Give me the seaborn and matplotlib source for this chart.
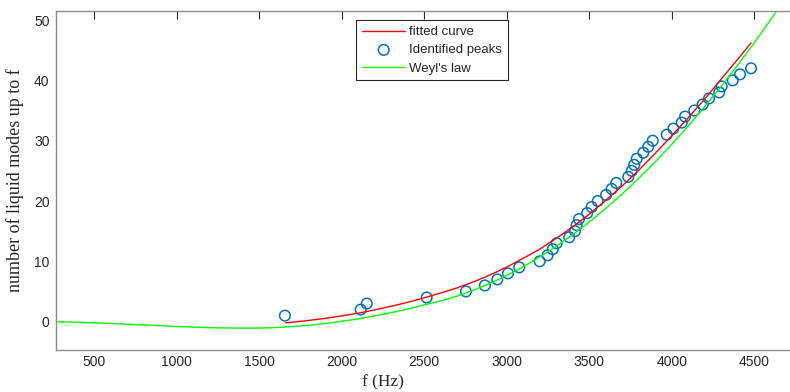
import numpy as np
import pandas as pd
import matplotlib
matplotlib.use("Agg")
import matplotlib.pyplot as plt
import seaborn as sns

sns.set_theme(style="white")
plt.rcParams['font.family'] = ['Liberation Sans', 'DejaVu Sans']

# identified peaks: frequency (Hz) and cumulative mode count
peak_f = [1656, 2115, 2152, 2515, 2753, 2868, 2943, 3008, 3076, 3200,
          3248, 3279, 3303, 3379, 3414, 3424, 3438, 3488, 3515, 3552,
          3602, 3636, 3664, 3737, 3758, 3773, 3788, 3828, 3858, 3885,
          3970, 4010, 4061, 4081, 4137, 4188, 4226, 4288, 4303, 4370,
          4414, 4481]
peak_n = list(range(1, 43))

# fitted curve
fit_f = [1660, 1700, 1800, 1900, 2000, 2100, 2200, 2300, 2400, 2500,
         2600, 2700, 2800, 2900, 3000, 3100, 3200, 3300, 3400, 3500,
         3600, 3700, 3800, 3900, 4000, 4100, 4200, 4300, 4400, 4481]
fit_n = [-0.2, -0.1, 0.2, 0.55, 0.95, 1.4, 1.95, 2.55, 3.2, 3.95,
         4.75, 5.6, 6.6, 7.75, 9.05, 10.5, 12.0, 13.8, 15.7, 17.8,
         20.1, 22.5, 25.1, 27.9, 30.8, 33.8, 36.9, 40.2, 43.5, 46.2]

# Weyl's law
weyl_f = [267, 400, 600, 800, 1000, 1200, 1400, 1500, 1600, 1700,
          1800, 1900, 2000, 2100, 2200, 2300, 2400, 2500, 2600, 2700,
          2800, 2900, 3000, 3100, 3200, 3300, 3400, 3500, 3600, 3700,
          3800, 3900, 4000, 4100, 4200, 4300, 4400, 4500, 4600, 4700,
          4800]
weyl_n = [0.0, -0.1, -0.3, -0.55, -0.8, -1.0, -1.08, -1.06, -0.98, -0.82,
          -0.6, -0.32, 0.05, 0.45, 0.95, 1.5, 2.1, 2.77, 3.43, 4.24,
          5.22, 6.35, 7.65, 9.1, 10.72, 12.49, 14.42, 16.51, 18.76, 21.17,
          23.75, 26.48, 29.37, 32.42, 35.64, 39.01, 42.54, 46.22, 50.07, 54.08,
          58.25]

xticks = [500, 1000, 1500, 2000, 2500, 3000, 3500, 4000, 4500]
yticks = [0, 10, 20, 30, 40, 50]

W, H = 790, 392
fig = plt.figure(figsize=(W / 100, H / 100), dpi=100)
ax = fig.add_axes([55.7 / W, 42 / H, 748 / W, 339 / H])

sns.lineplot(x=fit_f, y=fit_n, ax=ax, color='#ff0000', lw=1.0,
             label='fitted curve', estimator=None, sort=False)
sns.scatterplot(x=peak_f, y=peak_n, ax=ax, marker='o', s=58,
                facecolors='none', edgecolors='#0072BD', linewidths=1.1,
                label='Identified peaks')
sns.lineplot(x=weyl_f, y=weyl_n, ax=ax, color='#00ff00', lw=1.0,
             label="Weyl's law", estimator=None, sort=False)

ax.set_xlim(267, 4800)
ax.set_ylim(-4.7, 51.5)
ax.set_xticks(xticks)
ax.set_yticks(yticks)
ax.tick_params(direction='in', length=5.5, width=0.8, colors='#262626',
               labelsize=10, top=True, right=True)
ax.tick_params(axis='x', pad=3.5)
ax.tick_params(axis='y', pad=4.5)
for s in ax.spines.values():
    s.set_color('#8c8c8c')
    s.set_linewidth(1.0)

ax.set_xlabel('f (Hz)', family='Liberation Serif', fontsize=12.5, color='#262626')
ax.set_ylabel('number of liquid modes up to f', family='Liberation Serif',
              fontsize=13, color='#262626')
ax.xaxis.set_label_coords(0.4376, -0.097)
ax.yaxis.set_label_coords(-0.054, 0.5)
ax.xaxis.label.set_va('center')
ax.yaxis.label.set_va('center')

leg = ax.legend(loc='upper left', bbox_to_anchor=(356 / W, 1 - 20 / H),
                bbox_transform=fig.transFigure, fontsize=9.5, frameon=True,
                fancybox=False, framealpha=1, edgecolor='#262626',
                handlelength=3.3, borderpad=0.45, labelspacing=0.45,
                handletextpad=0.3, borderaxespad=0)
leg.get_frame().set_linewidth(0.8)

fig.savefig('out.png', dpi=100)
